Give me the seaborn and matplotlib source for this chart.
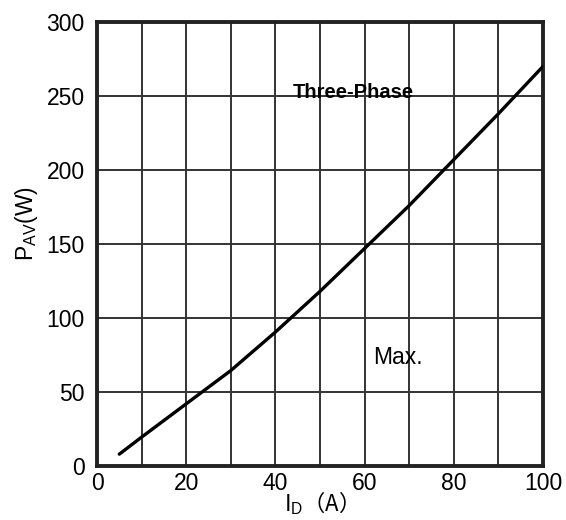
import matplotlib
matplotlib.use("Agg")
import matplotlib.pyplot as plt
import seaborn as sns
import pandas as pd
import numpy as np

# Data
current_a = [5, 10, 20, 30, 40, 50, 60, 70, 80, 90, 100]
power_w = [8, 19.5, 42, 64.5, 90.5, 118, 147, 176, 207, 238, 270]
x_ticks = [0, 20, 40, 60, 80, 100]
y_ticks = [0, 50, 100, 150, 200, 250, 300]

sns.set_theme(style="white")
plt.rcParams['font.family'] = ['Liberation Sans', 'Noto Sans CJK SC', 'DejaVu Sans']
plt.rcParams['mathtext.fontset'] = 'custom'
plt.rcParams['mathtext.rm'] = 'Liberation Sans'
plt.rcParams['mathtext.it'] = 'Liberation Sans'

df = pd.DataFrame({"I": current_a, "P": power_w})

fig = plt.figure(figsize=(5.66, 5.20), dpi=100)
ax = fig.add_axes([97/566, 1-466/520, (543-97)/566, (466-22)/520])

sns.lineplot(data=df, x="I", y="P", ax=ax, color="black", linewidth=2.4, zorder=3)

ax.set_xlim(0, 100)
ax.set_ylim(0, 300)
ax.set_yticks(y_ticks)
ax.set_xticks(x_ticks)
ax.set_xticks(np.arange(10, 100, 20), minor=True)
ax.grid(True, which="both", axis="x", color="#333333", linewidth=1.4)
ax.grid(True, which="major", axis="y", color="#333333", linewidth=1.4)
ax.tick_params(axis="both", which="both", length=0, labelsize=16.5, colors="black")
ax.tick_params(axis="y", pad=9)
ax.tick_params(axis="x", pad=4)

for s in ax.spines.values():
    s.set_visible(True)
    s.set_color("#222222")
    s.set_linewidth(2.8)

ax.set_xlabel(r'I$_{\mathrm{D}}$（A）', fontsize=16, color="black",
              family=['Noto Sans CJK SC'])
ax.xaxis.set_label_coords(0.49, -0.052)
ax.set_ylabel(r'P$_{\mathrm{AV}}$(W)', fontsize=16.5, color="black")
ax.yaxis.set_label_coords(-0.128, 0.545)

ax.text(57.4, 252.5, "Three-Phase", fontsize=14.5, fontweight="bold",
        ha="center", va="center", color="black")
ax.text(67.5, 73.5, "Max.", fontsize=16.5, ha="center", va="center", color="black")

fig.savefig("out.png", dpi=100)
